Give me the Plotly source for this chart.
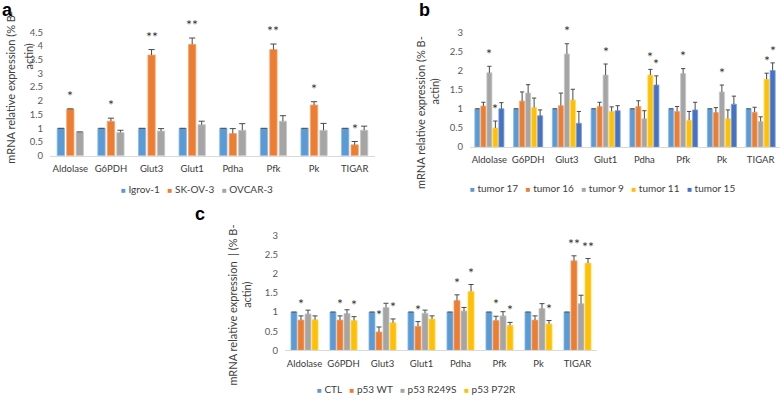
import plotly.graph_objects as go

# ---------------- data ----------------
genes = ["Aldolase", "G6PDH", "Glut3", "Glut1", "Pdha", "Pfk", "Pk", "TIGAR"]
y_ticks_a = [0, 0.5, 1, 1.5, 2, 2.5, 3, 3.5, 4, 4.5]
y_ticks_bc = [0, 0.5, 1, 1.5, 2, 2.5, 3]

# panel a : cell lines
igrov1 = [1.0, 1.0, 1.0, 1.0, 1.0, 1.0, 1.0, 1.0]
igrov1_err = [0, 0, 0, 0, 0, 0, 0, 0]
skov3 = [1.70, 1.26, 3.67, 4.06, 0.81, 3.87, 1.85, 0.40]
skov3_err = [0.01, 0.11, 0.20, 0.23, 0.18, 0.20, 0.12, 0.12]
skov3_sig = ["*", "*", "**", "**", "", "**", "*", "*"]
ovcar3 = [0.86, 0.85, 0.90, 1.13, 0.93, 1.26, 0.93, 0.93]
ovcar3_err = [0.01, 0.08, 0.09, 0.13, 0.24, 0.20, 0.25, 0.15]

# panel b : tumours
t17 = [1.0, 1.0, 1.0, 1.0, 1.0, 1.0, 1.0, 1.0]
t17_err = [0, 0, 0, 0, 0, 0, 0, 0]
t16 = [1.07, 1.20, 1.08, 1.06, 1.06, 0.93, 0.90, 0.91]
t16_err = [0.10, 0.24, 0.33, 0.11, 0.15, 0.13, 0.13, 0.13]
t9 = [1.94, 1.41, 2.43, 1.88, 0.74, 1.92, 1.44, 0.67]
t9_err = [0.17, 0.22, 0.27, 0.29, 0.21, 0.13, 0.18, 0.12]
t9_sig = ["*", "", "*", "*", "", "*", "*", ""]
t11 = [0.50, 1.03, 1.23, 0.93, 1.88, 0.70, 0.74, 1.77]
t11_err = [0.18, 0.25, 0.28, 0.12, 0.15, 0.23, 0.23, 0.16]
t11_sig = ["*", "", "", "", "*", "", "", "*"]
t15 = [1.00, 0.82, 0.62, 0.95, 1.62, 0.97, 1.12, 2.00]
t15_err = [0.16, 0.15, 0.31, 0.13, 0.24, 0.20, 0.21, 0.20]
t15_sig = ["", "", "", "", "*", "", "", "*"]

# panel c : p53 constructs
ctl = [1.0, 1.0, 1.0, 1.0, 1.0, 1.0, 1.0, 1.0]
ctl_err = [0, 0, 0, 0, 0, 0, 0, 0]
p53wt = [0.79, 0.79, 0.48, 0.63, 1.30, 0.78, 0.79, 2.34]
p53wt_err = [0.11, 0.11, 0.13, 0.12, 0.15, 0.11, 0.11, 0.13]
p53wt_sig = ["*", "*", "*", "*", "*", "*", "", "**"]
r249s = [0.95, 0.96, 1.12, 0.97, 1.03, 0.90, 1.09, 1.22]
r249s_err = [0.10, 0.10, 0.11, 0.08, 0.09, 0.11, 0.13, 0.22]
p72r = [0.80, 0.78, 0.72, 0.82, 1.54, 0.65, 0.69, 2.28]
p72r_err = [0.10, 0.10, 0.10, 0.08, 0.18, 0.08, 0.09, 0.12]
p72r_sig = ["", "*", "*", "", "*", "*", "*", "**"]

BLUE, ORANGE, GRAY, GOLD, DBLUE = "#5B9BD5", "#ED7D31", "#A5A5A5", "#FFC000", "#4472C4"
LIGHT = {BLUE: "#8DB9E3", ORANGE: "#F4A774", GRAY: "#C6C6C6", GOLD: "#FFD766", DBLUE: "#7C9BD6"}
NO_SIG = [""] * 8

panels = [
    dict(label="a", ax="", ymax=4.5, ticks=y_ticks_a,
         box=(50, 375, 154, 27), width=0.18, pitch=0.233, pad=0.10,
         title1=(11, 84), title2=(29, 52), tag=(7, 4), legend=(197, 188),
         series=[("Igrov-1", igrov1, igrov1_err, NO_SIG, BLUE),
                 ("SK-OV-3", skov3, skov3_err, skov3_sig, ORANGE),
                 ("OVCAR-3", ovcar3, ovcar3_err, NO_SIG, GRAY)],
         ytitle=("mRNA relative expression (% B-", "actin)")),
    dict(label="b", ax="2", ymax=3, ticks=y_ticks_bc,
         box=(470, 780, 145, 27), width=0.13, pitch=0.155, pad=0.06,
         title1=(421, 110), title2=(435, 88), tag=(424, 4), legend=(602, 187),
         series=[("tumor 17", t17, t17_err, NO_SIG, BLUE),
                 ("tumor 16", t16, t16_err, NO_SIG, ORANGE),
                 ("tumor 9", t9, t9_err, t9_sig, GRAY),
                 ("tumor 11", t11, t11_err, t11_sig, GOLD),
                 ("tumor 15", t15, t15_err, t15_sig, DBLUE)],
         ytitle=("mRNA relative expression (% B-", "actin)")),
    dict(label="c", ax="3", ymax=3, ticks=y_ticks_bc,
         box=(285, 597, 354, 236), width=0.154, pitch=0.18, pad=0.05,
         title1=(233, 308), title2=(247, 297), tag=(200, 214), legend=(416, 394),
         series=[("CTL", ctl, ctl_err, NO_SIG, BLUE),
                 ("p53 WT", p53wt, p53wt_err, p53wt_sig, ORANGE),
                 ("p53 R249S", r249s, r249s_err, NO_SIG, GRAY),
                 ("p53 P72R", p72r, p72r_err, p72r_sig, GOLD)],
         ytitle=("mRNA relative expression  | (% B-", "actin)")),
]

W, H = 784, 402
FONT = "Lato, 'Open Sans', sans-serif"


def fx(px):
    return px / W


def fy(px):
    return 1 - px / H


fig = go.Figure()
annotations = []
layout_axes = {}

for p in panels:
    xa, ya = "x" + p["ax"], "y" + p["ax"]
    n = len(p["series"])
    for k, (name, vals, errs, sig, color) in enumerate(p["series"]):
        centers = [i + (k - (n - 1) / 2) * p["pitch"] for i in range(len(genes))]
        fig.add_trace(go.Bar(
            x=centers, y=vals, width=p["width"], name=name,
            marker=dict(color=color, line=dict(color=LIGHT[color], width=0.8)),
            xaxis=xa, yaxis=ya, showlegend=False))
        ex, ey = [], []
        cap = p["width"] * 0.42
        for c, v, e in zip(centers, vals, errs):
            ex += [c, c, None, c - cap, c + cap, None]
            ey += [v, v + e, None, v + e, v + e, None]
        fig.add_trace(go.Scatter(
            x=ex, y=ey, mode="lines", line=dict(color="#4A4A4A", width=1),
            xaxis=xa, yaxis=ya, showlegend=False, hoverinfo="skip"))
        for c, v, e, s in zip(centers, vals, errs, sig):
            if s:
                annotations.append(dict(
                    x=c, y=min(v + e + p["pad"], p["ymax"] * 0.995),
                    xref=xa, yref=ya, text=s,
                    showarrow=False, yanchor="bottom", xanchor="center",
                    font=dict(family=FONT, size=14, color="#333333")))

    x0, x1, yb, yt = p["box"]
    layout_axes["xaxis" + p["ax"]] = dict(
        domain=[fx(x0), fx(x1)], range=[-0.5, len(genes) - 0.5],
        tickvals=list(range(len(genes))), ticktext=genes, anchor=ya,
        showgrid=False, zeroline=False, showline=True, linecolor="#D9D9D9",
        linewidth=1, ticks="", ticklabelstandoff=4,
        tickfont=dict(family=FONT, size=9.5, color="#3A3A3A"), fixedrange=True)
    layout_axes["yaxis" + p["ax"]] = dict(
        domain=[fy(yb), fy(yt)], range=[0, p["ymax"]], tickvals=p["ticks"],
        ticktext=[f"{t:g}" for t in p["ticks"]], anchor=xa,
        showgrid=False, zeroline=False, showline=False, ticks="",
        ticklabelstandoff=6,
        tickfont=dict(family=FONT, size=9.5, color="#595959"), fixedrange=True)

    # y axis title (two lines, as in the reference)
    for (tx, ty), txt in zip((p["title1"], p["title2"]), p["ytitle"]):
        annotations.append(dict(
            x=fx(tx), y=fy(ty), xref="paper", yref="paper", text=txt,
            textangle=-90, showarrow=False, xanchor="center", yanchor="middle",
            font=dict(family=FONT, size=11, color="#404040")))
    # panel tag
    annotations.append(dict(
        x=fx(p["tag"][0]), y=fy(p["tag"][1]), xref="paper", yref="paper",
        text="<b>%s</b>" % p["label"], showarrow=False, xanchor="center",
        yanchor="middle", font=dict(family="Liberation Sans, Arial", size=18,
                                    color="#000000")))
    # legend row
    items = ["<span style='color:%s;font-size:8px'>■</span> %s" % (s[4], s[0])
             for s in p["series"]]
    annotations.append(dict(
        x=fx(p["legend"][0]), y=fy(p["legend"][1]), xref="paper", yref="paper",
        text="&nbsp;&nbsp;&nbsp;".join(items), showarrow=False,
        xanchor="center", yanchor="middle",
        font=dict(family=FONT, size=10, color="#404040")))

fig.update_layout(
    width=W, height=H, margin=dict(l=0, r=0, t=0, b=0),
    paper_bgcolor="white", plot_bgcolor="white", barmode="overlay",
    showlegend=False, annotations=annotations, **layout_axes)

fig.write_html("out.html", config={"displayModeBar": False},
               post_script="document.body.style.margin='0';"
                           "document.body.style.overflow='hidden';")
